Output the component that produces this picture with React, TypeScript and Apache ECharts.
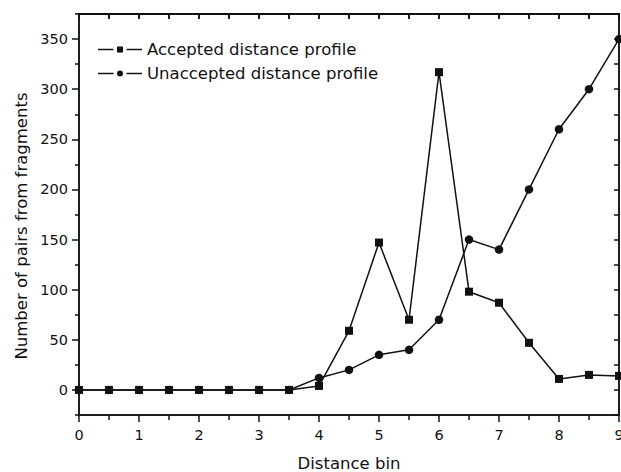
import React, { useEffect, useRef } from "react";
import * as echarts from "echarts";

const xBins = [0, 0.5, 1, 1.5, 2, 2.5, 3, 3.5, 4, 4.5, 5, 5.5, 6, 6.5, 7, 7.5, 8, 8.5, 9];
const accepted = [0, 0, 0, 0, 0, 0, 0, 0, 4, 59, 147, 70, 317, 98, 87, 47, 11, 15, 14];
const unaccepted = [0, 0, 0, 0, 0, 0, 0, 0, 12, 20, 35, 40, 70, 150, 140, 200, 260, 300, 350];
const xTopTicks = [0, 0.5, 1, 1.5, 2, 2.5, 3, 3.5, 4, 4.5, 5, 5.5, 6, 6.5, 7, 7.5, 8, 8.5, 9];
const yMajorTicks = [0, 50, 100, 150, 200, 250, 300, 350];
const yMinorTicks = [-25, 25, 75, 125, 175, 225, 275, 325, 375];
const seriesNames = ["Accepted distance profile", "Unaccepted distance profile"];
const X_MIN = 0;
const X_MAX = 9;
const Y_MIN = -25;
const Y_MAX = 375;

const FONT = "DejaVu Sans";
const INK = "#111";

// legend icons: dash – marker – dash (44 x 6 box)
const ICON_SQUARE =
  "path://M0,2.25L15.5,2.25L15.5,3.75L0,3.75Z M19,0L25,0L25,6L19,6Z M28.5,2.25L44,2.25L44,3.75L28.5,3.75Z";
const ICON_CIRCLE =
  "path://M0,2.25L15.5,2.25L15.5,3.75L0,3.75Z M22,0A3,3 0 1,1 22,6A3,3 0 1,1 22,0Z M28.5,2.25L44,2.25L44,3.75L28.5,3.75Z";

export default function App() {
  const ref = useRef<HTMLDivElement>(null);
  useEffect(() => {
    if (!ref.current) return;
    const chart = echarts.init(ref.current, null, { renderer: "svg" });
    const line = () => ({ show: true, onZero: false, lineStyle: { color: INK, width: 1.5 } });
    const tickStyle = () => ({ color: INK, width: 1.5 });
    const yTitle = {
      type: "text",
      x: 21,
      y: 226,
      rotation: Math.PI / 2,
      style: {
        text: "Number of pairs from fragments",
        fontFamily: FONT,
        fontSize: 16.5,
        fill: INK,
        textAlign: "center",
        textVerticalAlign: "middle",
      },
    };
    chart.setOption({
      animation: false,
      backgroundColor: "#fff",
      textStyle: { fontFamily: FONT, color: INK },
      grid: {
        left: 79,
        right: 2,
        top: 14,
        bottom: 57,
        containLabel: false,
        outerBoundsMode: "none",
        show: true,
        borderColor: INK,
        borderWidth: 1.5,
        backgroundColor: "transparent",
      },
      legend: {
        orient: "vertical",
        left: 93,
        top: 36,
        itemWidth: 44,
        itemHeight: 6,
        itemGap: 7,
        data: [
          { name: seriesNames[0], icon: ICON_SQUARE },
          { name: seriesNames[1], icon: ICON_CIRCLE },
        ],
        textStyle: { fontFamily: FONT, fontSize: 16.5, color: INK, lineHeight: 16 },
      },
      xAxis: [
        {
          type: "value",
          min: X_MIN,
          max: X_MAX,
          interval: 1,
          position: "bottom",
          name: "Distance bin",
          nameLocation: "middle",
          nameGap: 40,
          nameTextStyle: { fontFamily: FONT, fontSize: 16.5, color: INK },
          axisLine: line(),
          axisTick: { show: true, inside: false, length: 7, lineStyle: tickStyle() },
          minorTick: { show: true, splitNumber: 2, length: 5, lineStyle: tickStyle() },
          axisLabel: { fontFamily: FONT, fontSize: 14.5, color: INK, margin: 12 },
          splitLine: { show: false },
          minorSplitLine: { show: false },
        },
        {
          type: "value",
          min: X_MIN,
          max: X_MAX,
          interval: 0.5,
          position: "top",
          axisLine: line(),
          axisTick: { show: true, inside: true, length: 5, lineStyle: tickStyle() },
          axisLabel: { show: false },
          splitLine: { show: false },
        },
      ],
      yAxis: [
        {
          type: "value",
          min: Y_MIN,
          max: Y_MAX,
          position: "left",
          axisLine: line(),
          axisTick: {
            show: true,
            inside: false,
            length: 7,
            customValues: yMajorTicks,
            lineStyle: tickStyle(),
          },
          axisLabel: {
            fontFamily: FONT,
            fontSize: 14.5,
            color: INK,
            margin: 11,
            customValues: yMajorTicks,
          },
          splitLine: { show: false },
        },
        {
          type: "value",
          min: Y_MIN,
          max: Y_MAX,
          position: "left",
          axisLine: { show: false, onZero: false },
          axisTick: {
            show: true,
            inside: false,
            length: 4,
            customValues: yMinorTicks,
            lineStyle: tickStyle(),
          },
          axisLabel: { show: false },
          splitLine: { show: false },
        },
        {
          type: "value",
          min: Y_MIN,
          max: Y_MAX,
          interval: 25,
          position: "right",
          axisLine: line(),
          axisTick: { show: true, inside: true, length: 5, lineStyle: tickStyle() },
          axisLabel: { show: false },
          splitLine: { show: false },
        },
      ],
      graphic: [yTitle],
      series: [
        {
          name: seriesNames[0],
          type: "line",
          data: xBins.map((x, i) => [x, accepted[i]]),
          symbol: "rect",
          symbolSize: 8,
          clip: false,
          lineStyle: { color: INK, width: 1.5 },
          itemStyle: { color: INK },
          z: 3,
        },
        {
          name: seriesNames[1],
          type: "line",
          data: xBins.map((x, i) => [x, unaccepted[i]]),
          symbol: "circle",
          symbolSize: 8.5,
          clip: false,
          lineStyle: { color: INK, width: 1.5 },
          itemStyle: { color: INK },
          z: 2,
        },
      ],
    });

    // top frame line and its inward ticks, placed through the chart's own scales
    const toPx = (v: number[]) => chart.convertToPixel({ xAxisIndex: 0, yAxisIndex: 0 }, v) as number[];
    const tl = toPx([X_MIN, Y_MAX]);
    const tr = toPx([X_MAX, Y_MAX]);
    const topEls: any[] = [
      {
        type: "rect",
        z: 50,
        shape: { x: tl[0] - 1, y: tl[1] - 1, width: tr[0] - tl[0] + 2, height: 2 },
        style: { fill: INK },
      },
    ];
    xTopTicks.forEach((v) => {
      const p = toPx([v, Y_MAX]);
      topEls.push({
        type: "rect",
        z: 50,
        shape: { x: p[0] - 0.75, y: p[1], width: 1.5, height: 5 },
        style: { fill: INK },
      });
    });
    chart.setOption({ graphic: [yTitle, ...topEls] });
    return () => chart.dispose();
  }, []);
  return <div ref={ref} style={{ width: 621, height: 472, position: "absolute", left: 0, top: 0 }} />;
}
